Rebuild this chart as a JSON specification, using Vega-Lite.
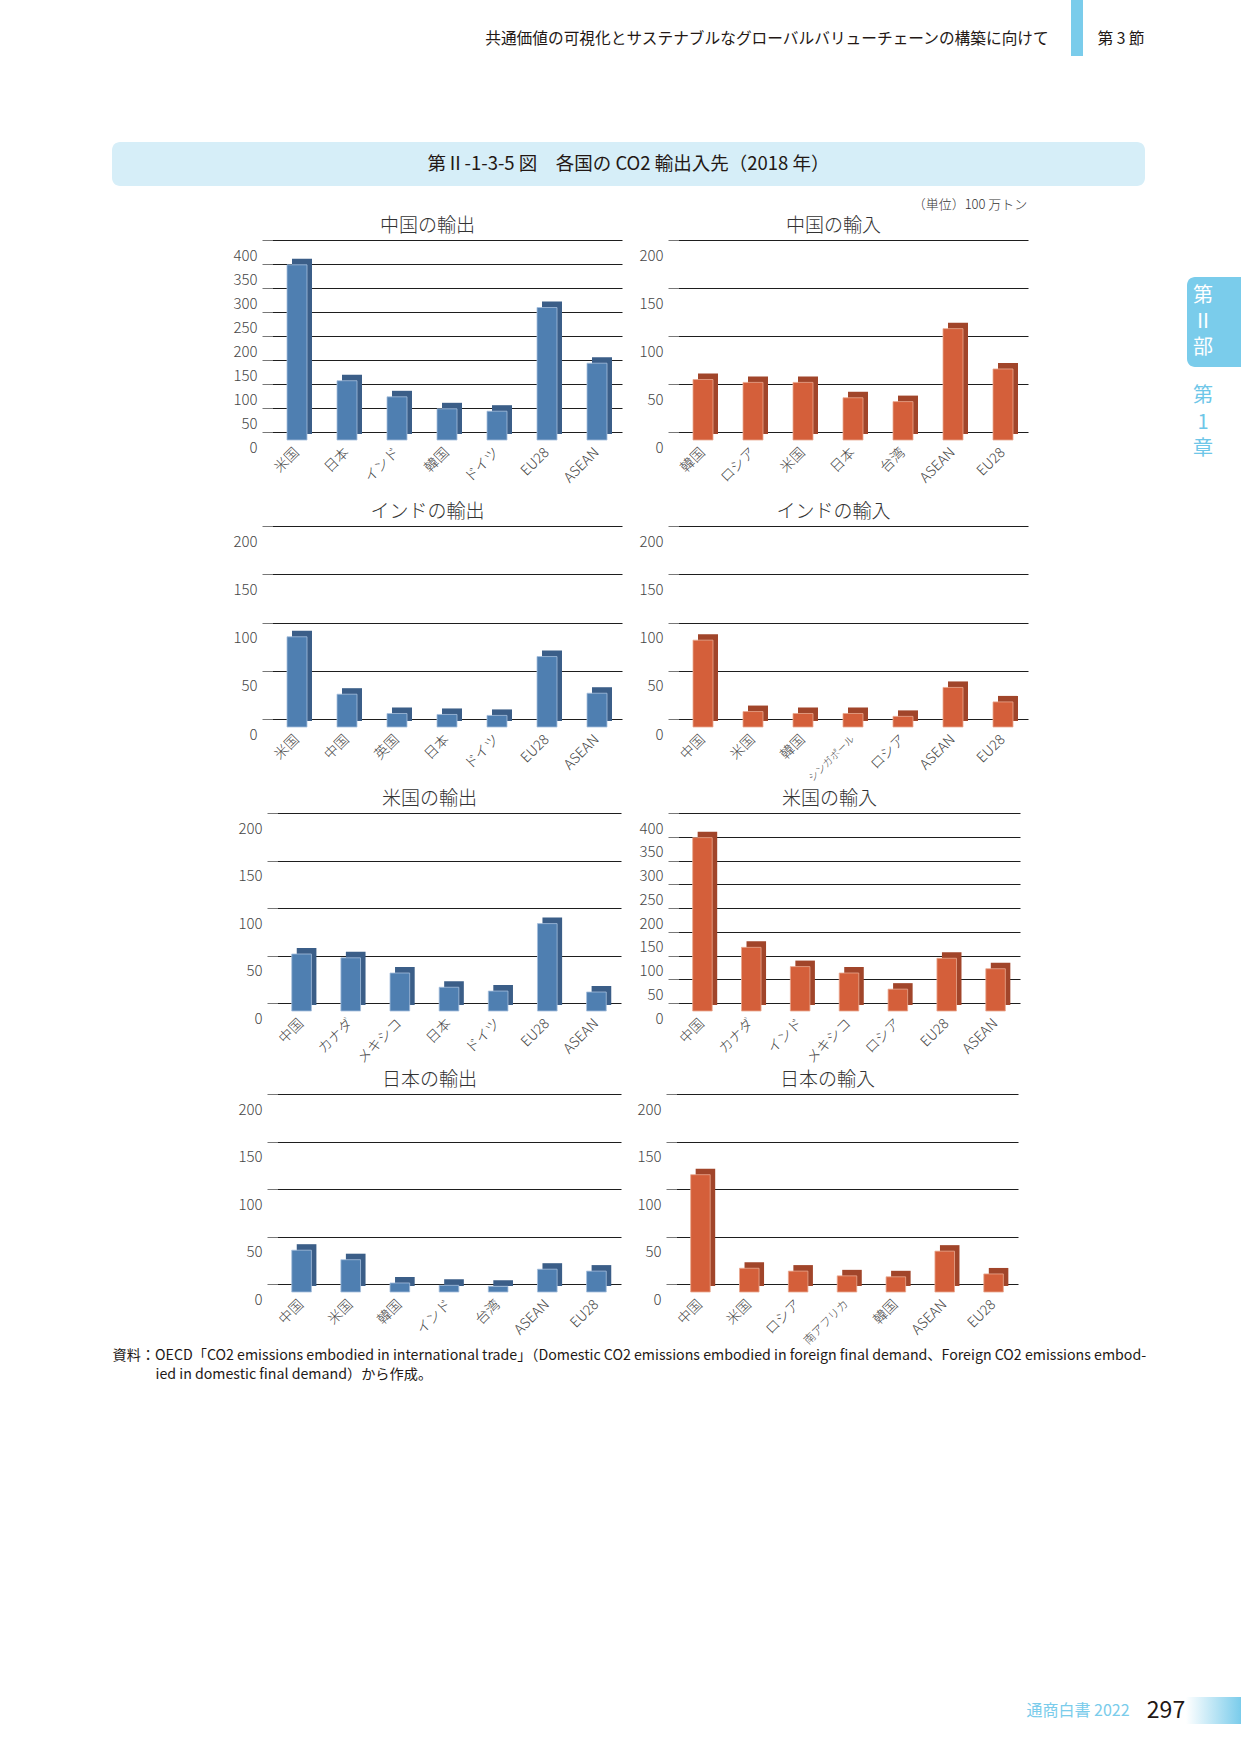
{
  "$schema": "https://vega.github.io/schema/vega-lite/v6.json",
  "background": "white",
  "padding": 0,
  "autosize": {"type": "pad"},
  "spacing": 0,
  "bounds": "flush",
  "config": {
    "font": "Noto Sans CJK JP",
    "view": {"stroke": null},
    "concat": {"spacing": 0},
    "title": {"font": "Noto Sans CJK JP", "fontSize": 19, "fontWeight": 300, "color": "#333333", "anchor": "middle", "frame": "bounds", "offset": 4, "baseline": "bottom"},
    "axisY": {"domain": false, "ticks": true, "tickSize": 10, "tickColor": "#555555", "tickWidth": 0.8, "tickOffset": -8, "grid": true, "gridColor": "#1e1e1e", "gridWidth": 1.2, "labelOffset": 15, "labelPadding": 5, "labelFont": "Noto Sans CJK JP", "labelFontSize": 15, "labelFontWeight": 300, "labelColor": "#454545"},
    "axisX": {"domain": false, "ticks": false, "tickSize": 0, "grid": false, "labelAngle": -45, "labelAlign": "right", "labelBaseline": "middle", "labelPadding": 10, "labelFont": "Noto Sans CJK JP", "labelFontSize": 14, "labelFontWeight": 300, "labelColor": "#454545"}
  },
  "datasets": {
    "co2": [
      {"panel": "中国の輸出", "partner": "米国", "value": 365},
      {"panel": "中国の輸出", "partner": "日本", "value": 123.5},
      {"panel": "中国の輸出", "partner": "インド", "value": 90},
      {"panel": "中国の輸出", "partner": "韓国", "value": 65},
      {"panel": "中国の輸出", "partner": "ドイツ", "value": 60},
      {"panel": "中国の輸出", "partner": "EU28", "value": 276},
      {"panel": "中国の輸出", "partner": "ASEAN", "value": 160},
      {"panel": "中国の輸入", "partner": "韓国", "value": 63},
      {"panel": "中国の輸入", "partner": "ロシア", "value": 60},
      {"panel": "中国の輸入", "partner": "米国", "value": 60},
      {"panel": "中国の輸入", "partner": "日本", "value": 44},
      {"panel": "中国の輸入", "partner": "台湾", "value": 40},
      {"panel": "中国の輸入", "partner": "ASEAN", "value": 116},
      {"panel": "中国の輸入", "partner": "EU28", "value": 74},
      {"panel": "インドの輸出", "partner": "米国", "value": 93.5},
      {"panel": "インドの輸出", "partner": "中国", "value": 34},
      {"panel": "インドの輸出", "partner": "英国", "value": 14},
      {"panel": "インドの輸出", "partner": "日本", "value": 13},
      {"panel": "インドの輸出", "partner": "ドイツ", "value": 12},
      {"panel": "インドの輸出", "partner": "EU28", "value": 73},
      {"panel": "インドの輸出", "partner": "ASEAN", "value": 35},
      {"panel": "インドの輸入", "partner": "中国", "value": 90},
      {"panel": "インドの輸入", "partner": "米国", "value": 16},
      {"panel": "インドの輸入", "partner": "韓国", "value": 14},
      {"panel": "インドの輸入", "partner": "シンガポール", "value": 14},
      {"panel": "インドの輸入", "partner": "ロシア", "value": 11},
      {"panel": "インドの輸入", "partner": "ASEAN", "value": 41},
      {"panel": "インドの輸入", "partner": "EU28", "value": 26},
      {"panel": "米国の輸出", "partner": "中国", "value": 60},
      {"panel": "米国の輸出", "partner": "カナダ", "value": 56},
      {"panel": "米国の輸出", "partner": "メキシコ", "value": 40},
      {"panel": "米国の輸出", "partner": "日本", "value": 25},
      {"panel": "米国の輸出", "partner": "ドイツ", "value": 21},
      {"panel": "米国の輸出", "partner": "EU28", "value": 92},
      {"panel": "米国の輸出", "partner": "ASEAN", "value": 20},
      {"panel": "米国の輸入", "partner": "中国", "value": 365},
      {"panel": "米国の輸入", "partner": "カナダ", "value": 134},
      {"panel": "米国の輸入", "partner": "インド", "value": 93.5},
      {"panel": "米国の輸入", "partner": "メキシコ", "value": 80},
      {"panel": "米国の輸入", "partner": "ロシア", "value": 46},
      {"panel": "米国の輸入", "partner": "EU28", "value": 111},
      {"panel": "米国の輸入", "partner": "ASEAN", "value": 89},
      {"panel": "日本の輸出", "partner": "中国", "value": 44},
      {"panel": "日本の輸出", "partner": "米国", "value": 34},
      {"panel": "日本の輸出", "partner": "韓国", "value": 9.5},
      {"panel": "日本の輸出", "partner": "インド", "value": 7},
      {"panel": "日本の輸出", "partner": "台湾", "value": 6},
      {"panel": "日本の輸出", "partner": "ASEAN", "value": 24},
      {"panel": "日本の輸出", "partner": "EU28", "value": 22},
      {"panel": "日本の輸入", "partner": "中国", "value": 123.5},
      {"panel": "日本の輸入", "partner": "米国", "value": 25},
      {"panel": "日本の輸入", "partner": "ロシア", "value": 22},
      {"panel": "日本の輸入", "partner": "南アフリカ", "value": 17},
      {"panel": "日本の輸入", "partner": "韓国", "value": 16},
      {"panel": "日本の輸入", "partner": "ASEAN", "value": 43},
      {"panel": "日本の輸入", "partner": "EU28", "value": 19}
    ]
  },
  "vconcat": [
    {
      "hconcat": [
        {"width": 476, "height": 1, "data": {"values": []}, "mark": "rect"},
        {"width": 582, "height": 78, "data": {"values": [{"t": "共通価値の可視化とサステナブルなグローバルバリューチェーンの構築に向けて"}]},
         "mark": {"type": "text", "fontSize": 15.7, "color": "#231815", "align": "center", "baseline": "middle"},
         "encoding": {"text": {"field": "t", "type": "nominal"}}},
        {"width": 13, "height": 1, "data": {"values": []}, "mark": "rect"},
        {"width": 12, "height": 56, "data": {"values": [{}]}, "mark": {"type": "rect", "fill": "#7ACCEB"}},
        {"width": 14, "height": 1, "data": {"values": []}, "mark": "rect"},
        {"width": 48, "height": 78, "data": {"values": [{"t": "第 3 節"}]},
         "mark": {"type": "text", "fontSize": 15.7, "color": "#231815", "align": "center", "baseline": "middle"},
         "encoding": {"text": {"field": "t", "type": "nominal"}}}
      ],
      "spacing": 0, "bounds": "flush"
    },
    {"width": 1, "height": 142, "data": {"values": []}, "mark": "rect"},
    {
      "hconcat": [
        {"width": 112, "height": 1, "data": {"values": []}, "mark": "rect"},
        {"width": 1033, "height": 44, "data": {"values": [{"t": "第Ⅱ-1-3-5 図　各国の CO2 輸出入先（2018 年）"}]},
         "layer": [
           {"mark": {"type": "rect", "fill": "#D6EEF8", "cornerRadius": 8}},
           {"mark": {"type": "text", "fontSize": 18.5, "color": "#231815", "align": "center", "baseline": "middle"},
            "encoding": {"text": {"field": "t", "type": "nominal"}}}
         ]}
      ],
      "spacing": 0, "bounds": "flush"
    },
    {"width": 1, "height": 44, "data": {"values": []}, "mark": "rect"},
    {
      "hconcat": [
        {"width": 900, "height": 1, "data": {"values": []}, "mark": "rect"},
        {"width": 140, "height": 38, "data": {"values": [{"t": "（単位）100 万トン"}]},
         "mark": {"type": "text", "fontSize": 13, "fontWeight": 300, "color": "#333333", "align": "center", "baseline": "middle"},
         "encoding": {"text": {"field": "t", "type": "nominal"}}}
      ],
      "spacing": 0, "bounds": "flush"
    },
    {"width": 1, "height": 62, "data": {"values": []}, "mark": "rect"},
    {
      "hconcat": [
        {
          "vconcat": [
            {
              "hconcat": [
                {"width": 272, "height": 1, "data": {"values": []}, "mark": "rect"},
                {
                  "width": 350, "height": 192,
                  "title": {"text": "中国の輸出"},
                  "data": {"name": "co2"},
                  "transform": [{"filter": "datum.panel === '中国の輸出'"}],
                  "encoding": {
                    "x": {"field": "partner", "type": "nominal", "sort": null, "scale": {"paddingInner": 0.6, "paddingOuter": 0.3}, "axis": {"title": null}},
                    "y": {"field": "value", "type": "quantitative", "scale": {"domain": [0, 400], "nice": false}, "axis": {"title": null, "values": [0, 50, 100, 150, 200, 250, 300, 350, 400]}}
                  },
                  "layer": [
                    {"mark": {"type": "bar", "color": "#3B5E88", "xOffset": 5, "yOffset": -6, "y2Offset": -6}},
                    {"mark": {"type": "bar", "color": "#4F7FB1", "stroke": "#A6BFDD", "strokeWidth": 0.8}}
                  ]
                },
                {"width": 56, "height": 1, "data": {"values": []}, "mark": "rect"},
                {
                  "width": 350, "height": 192,
                  "title": {"text": "中国の輸入"},
                  "data": {"name": "co2"},
                  "transform": [{"filter": "datum.panel === '中国の輸入'"}],
                  "encoding": {
                    "x": {"field": "partner", "type": "nominal", "sort": null, "scale": {"paddingInner": 0.6, "paddingOuter": 0.3}, "axis": {"title": null}},
                    "y": {"field": "value", "type": "quantitative", "scale": {"domain": [0, 200], "nice": false}, "axis": {"title": null, "values": [0, 50, 100, 150, 200]}}
                  },
                  "layer": [
                    {"mark": {"type": "bar", "color": "#A1452A", "xOffset": 5, "yOffset": -6, "y2Offset": -6}},
                    {"mark": {"type": "bar", "color": "#D45F3A", "stroke": "#EAA88F", "strokeWidth": 0.8}}
                  ]
                }
              ],
              "spacing": 0, "bounds": "flush"
            },
            {"width": 1, "height": 286, "data": {"values": []}, "mark": "rect"},
            {
              "hconcat": [
                {"width": 272, "height": 1, "data": {"values": []}, "mark": "rect"},
                {
                  "width": 350, "height": 193,
                  "title": {"text": "インドの輸出"},
                  "data": {"name": "co2"},
                  "transform": [{"filter": "datum.panel === 'インドの輸出'"}],
                  "encoding": {
                    "x": {"field": "partner", "type": "nominal", "sort": null, "scale": {"paddingInner": 0.6, "paddingOuter": 0.3}, "axis": {"title": null}},
                    "y": {"field": "value", "type": "quantitative", "scale": {"domain": [0, 200], "nice": false}, "axis": {"title": null, "values": [0, 50, 100, 150, 200]}}
                  },
                  "layer": [
                    {"mark": {"type": "bar", "color": "#3B5E88", "xOffset": 5, "yOffset": -6, "y2Offset": -6}},
                    {"mark": {"type": "bar", "color": "#4F7FB1", "stroke": "#A6BFDD", "strokeWidth": 0.8}}
                  ]
                },
                {"width": 56, "height": 1, "data": {"values": []}, "mark": "rect"},
                {
                  "width": 350, "height": 193,
                  "title": {"text": "インドの輸入"},
                  "data": {"name": "co2"},
                  "transform": [{"filter": "datum.panel === 'インドの輸入'"}],
                  "encoding": {
                    "x": {"field": "partner", "type": "nominal", "sort": null, "scale": {"paddingInner": 0.6, "paddingOuter": 0.3},
                          "axis": {"title": null, "labelFontSize": {"condition": {"test": "datum.label === 'シンガポール'", "value": 10}, "value": 14}}},
                    "y": {"field": "value", "type": "quantitative", "scale": {"domain": [0, 200], "nice": false}, "axis": {"title": null, "values": [0, 50, 100, 150, 200]}}
                  },
                  "layer": [
                    {"mark": {"type": "bar", "color": "#A1452A", "xOffset": 5, "yOffset": -6, "y2Offset": -6}},
                    {"mark": {"type": "bar", "color": "#D45F3A", "stroke": "#EAA88F", "strokeWidth": 0.8}}
                  ]
                }
              ],
              "spacing": 0, "bounds": "flush"
            },
            {"width": 1, "height": 287, "data": {"values": []}, "mark": "rect"},
            {
              "hconcat": [
                {"width": 277, "height": 1, "data": {"values": []}, "mark": "rect"},
                {
                  "width": 344, "height": 190,
                  "title": {"text": "米国の輸出"},
                  "data": {"name": "co2"},
                  "transform": [{"filter": "datum.panel === '米国の輸出'"}],
                  "encoding": {
                    "x": {"field": "partner", "type": "nominal", "sort": null, "scale": {"paddingInner": 0.6, "paddingOuter": 0.3}, "axis": {"title": null}},
                    "y": {"field": "value", "type": "quantitative", "scale": {"domain": [0, 200], "nice": false}, "axis": {"title": null, "values": [0, 50, 100, 150, 200]}}
                  },
                  "layer": [
                    {"mark": {"type": "bar", "color": "#3B5E88", "xOffset": 5, "yOffset": -6, "y2Offset": -6}},
                    {"mark": {"type": "bar", "color": "#4F7FB1", "stroke": "#A6BFDD", "strokeWidth": 0.8}}
                  ]
                },
                {"width": 57, "height": 1, "data": {"values": []}, "mark": "rect"},
                {
                  "width": 342, "height": 190,
                  "title": {"text": "米国の輸入"},
                  "data": {"name": "co2"},
                  "transform": [{"filter": "datum.panel === '米国の輸入'"}],
                  "encoding": {
                    "x": {"field": "partner", "type": "nominal", "sort": null, "scale": {"paddingInner": 0.6, "paddingOuter": 0.3}, "axis": {"title": null}},
                    "y": {"field": "value", "type": "quantitative", "scale": {"domain": [0, 400], "nice": false}, "axis": {"title": null, "values": [0, 50, 100, 150, 200, 250, 300, 350, 400]}}
                  },
                  "layer": [
                    {"mark": {"type": "bar", "color": "#A1452A", "xOffset": 5, "yOffset": -6, "y2Offset": -6}},
                    {"mark": {"type": "bar", "color": "#D45F3A", "stroke": "#EAA88F", "strokeWidth": 0.8}}
                  ]
                }
              ],
              "spacing": 0, "bounds": "flush"
            },
            {"width": 1, "height": 281, "data": {"values": []}, "mark": "rect"},
            {
              "hconcat": [
                {"width": 277, "height": 1, "data": {"values": []}, "mark": "rect"},
                {
                  "width": 344, "height": 190,
                  "title": {"text": "日本の輸出"},
                  "data": {"name": "co2"},
                  "transform": [{"filter": "datum.panel === '日本の輸出'"}],
                  "encoding": {
                    "x": {"field": "partner", "type": "nominal", "sort": null, "scale": {"paddingInner": 0.6, "paddingOuter": 0.3}, "axis": {"title": null}},
                    "y": {"field": "value", "type": "quantitative", "scale": {"domain": [0, 200], "nice": false}, "axis": {"title": null, "values": [0, 50, 100, 150, 200]}}
                  },
                  "layer": [
                    {"mark": {"type": "bar", "color": "#3B5E88", "xOffset": 5, "yOffset": -6, "y2Offset": -6}},
                    {"mark": {"type": "bar", "color": "#4F7FB1", "stroke": "#A6BFDD", "strokeWidth": 0.8}}
                  ]
                },
                {"width": 55, "height": 1, "data": {"values": []}, "mark": "rect"},
                {
                  "width": 342, "height": 190,
                  "title": {"text": "日本の輸入"},
                  "data": {"name": "co2"},
                  "transform": [{"filter": "datum.panel === '日本の輸入'"}],
                  "encoding": {
                    "x": {"field": "partner", "type": "nominal", "sort": null, "scale": {"paddingInner": 0.6, "paddingOuter": 0.3},
                          "axis": {"title": null, "labelFontSize": {"condition": {"test": "datum.label === '南アフリカ'", "value": 11.5}, "value": 14}}},
                    "y": {"field": "value", "type": "quantitative", "scale": {"domain": [0, 200], "nice": false}, "axis": {"title": null, "values": [0, 50, 100, 150, 200]}}
                  },
                  "layer": [
                    {"mark": {"type": "bar", "color": "#A1452A", "xOffset": 5, "yOffset": -6, "y2Offset": -6}},
                    {"mark": {"type": "bar", "color": "#D45F3A", "stroke": "#EAA88F", "strokeWidth": 0.8}}
                  ]
                }
              ],
              "spacing": 0, "bounds": "flush"
            }
          ],
          "spacing": 0, "bounds": "flush"
        },
        {"width": 1187, "height": 1, "data": {"values": []}, "mark": "rect"},
        {
          "vconcat": [
            {"width": 1, "height": 29, "data": {"values": []}, "mark": "rect"},
            {
              "hconcat": [
                {"width": 32, "height": 90,
                 "layer": [
                   {"data": {"values": [{}]},
                    "mark": {"type": "rect", "fill": "#7ACCEB", "cornerRadiusTopLeft": 8, "cornerRadiusBottomLeft": 8}},
                   {"data": {"values": [{"c": "第", "i": 1}, {"c": "Ⅱ", "i": 2}, {"c": "部", "i": 3}]},
                    "mark": {"type": "text", "fontSize": 20, "color": "white", "align": "center", "baseline": "middle"},
                    "encoding": {
                      "y": {"field": "i", "type": "ordinal", "scale": {"type": "point", "padding": 0.7}, "axis": null},
                      "text": {"field": "c", "type": "nominal"}
                    }}
                 ]},
                {"width": 22, "height": 90, "data": {"values": [{}]}, "mark": {"type": "rect", "fill": "#7ACCEB"}}
              ],
              "spacing": 0, "bounds": "flush"
            },
            {"width": 1, "height": 92, "data": {"values": []}, "mark": "rect"},
            {"width": 32, "height": 107,
             "data": {"values": [{"c": "第", "i": 1}, {"c": "1", "i": 2}, {"c": "章", "i": 3}]},
             "mark": {"type": "text", "fontSize": 20, "color": "#6EC6E8", "align": "center", "baseline": "middle"},
             "encoding": {
               "y": {"field": "i", "type": "ordinal", "scale": {"type": "point", "padding": 1.0}, "axis": null},
               "text": {"field": "c", "type": "nominal"}
             }}
          ],
          "spacing": 0, "bounds": "flush"
        }
      ],
      "spacing": 0, "bounds": "flush"
    },
    {"width": 1, "height": 1098, "data": {"values": []}, "mark": "rect"},
    {
      "hconcat": [
        {"width": 112, "height": 1, "data": {"values": []}, "mark": "rect"},
        {"width": 1, "height": 19, "data": {"values": [{"t": "資料：OECD「CO2 emissions embodied in international trade」（Domestic CO2 emissions embodied in foreign final demand、Foreign CO2 emissions embod-"}]},
         "mark": {"type": "text", "fontSize": 14.2, "color": "#231815", "align": "left", "baseline": "middle"},
         "encoding": {"text": {"field": "t", "type": "nominal"}}}
      ],
      "spacing": 0, "bounds": "flush"
    },
    {"width": 1, "height": 19, "data": {"values": []}, "mark": "rect"},
    {
      "hconcat": [
        {"width": 155, "height": 1, "data": {"values": []}, "mark": "rect"},
        {"width": 1, "height": 19, "data": {"values": [{"t": "ied in domestic final demand）から作成。"}]},
         "mark": {"type": "text", "fontSize": 14.2, "color": "#231815", "align": "left", "baseline": "middle"},
         "encoding": {"text": {"field": "t", "type": "nominal"}}}
      ],
      "spacing": 0, "bounds": "flush"
    },
    {"width": 1, "height": 332, "data": {"values": []}, "mark": "rect"},
    {
      "hconcat": [
        {"width": 1024, "height": 1, "data": {"values": []}, "mark": "rect"},
        {"width": 108, "height": 27, "data": {"values": [{"t": "通商白書 2022"}]},
         "mark": {"type": "text", "fontSize": 16, "color": "#7ACCEB", "align": "center", "baseline": "middle"},
         "encoding": {"text": {"field": "t", "type": "nominal"}}},
        {"width": 20, "height": 1, "data": {"values": []}, "mark": "rect"},
        {"width": 28, "height": 27, "data": {"values": [{"t": "297"}]},
         "mark": {"type": "text", "fontSize": 23, "color": "#231815", "align": "center", "baseline": "middle"},
         "encoding": {"text": {"field": "t", "type": "nominal"}}},
        {"width": 6, "height": 1, "data": {"values": []}, "mark": "rect"},
        {"width": 55, "height": 27, "data": {"values": [{}]},
         "mark": {"type": "rect", "fill": {"gradient": "linear", "x1": 0, "y1": 0, "x2": 1, "y2": 0, "stops": [{"offset": 0, "color": "#ffffff"}, {"offset": 1, "color": "#7ACCEB"}]}}}
      ],
      "spacing": 0, "bounds": "flush"
    },
    {"width": 1, "height": 27, "data": {"values": []}, "mark": "rect"}
  ]
}
